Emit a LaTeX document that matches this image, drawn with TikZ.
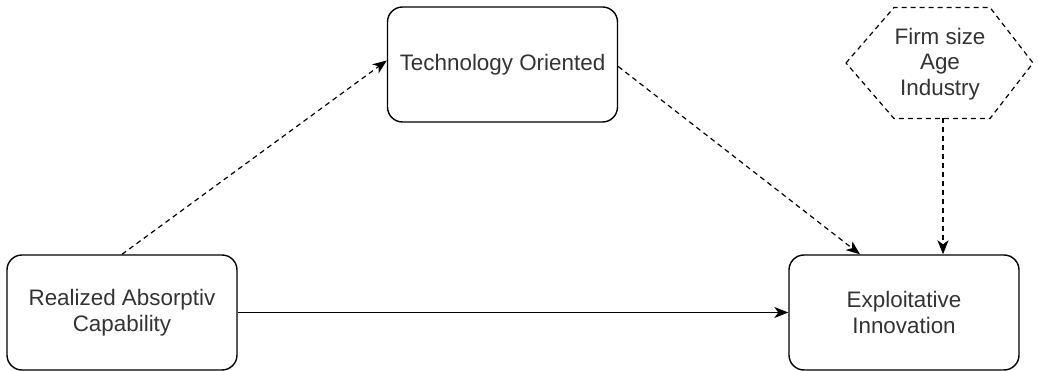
\documentclass[tikz,border=0pt]{standalone}
\usepackage{fontspec}
\setmainfont{Liberation Sans}
\usetikzlibrary{arrows.meta,positioning}

\tikzset{
  block/.style={draw, rounded corners=15pt, line width=1.4pt, minimum width=230pt,
    minimum height=115pt, align=center, text=black!80},
  link/.style={line width=1.2pt, -{Stealth[length=14pt,width=11pt,inset=4pt]}},
  dashlink/.style={link, dash pattern=on 5pt off 4pt},
  hexline/.style={line width=1.2pt, dash pattern=on 5pt off 4pt}
}

\begin{document}
\begin{tikzpicture}[x=1pt, y=-1pt, inner sep=0pt, font=\fontsize{22.4}{25.5}\selectfont]
  \useasboundingbox (0,0) rectangle (1038,371);

  \node[block] (rac) at (122,312.5) {Realized Absorptiv\\Capability};
  \node[block] (tech) at (502.5,64.5) {Technology Oriented};
  \node[block] (expl) at (904,312.5) {Exploitative\\Innovation};

  % control variables
  \node[align=center, text=black!80] (ctrl) at (940,64) {Firm size\\Age\\Industry};
  \coordinate (hw) at (846,63);
  \coordinate (htl) at (894,7.5);
  \coordinate (htr) at (990,7.5);
  \coordinate (he) at (1033,63);
  \coordinate (hbr) at (990,118.5);
  \coordinate (hbl) at (894,118.5);
  \draw[hexline] (hw) -- (htl) -- (htr) -- (he) -- (hbr) -- (hbl) -- cycle;
  \coordinate (hb) at (943,118.5);

  \draw[dashlink] (rac.north) -- ([yshift=4pt]tech.west);
  \draw[dashlink] ([yshift=-2pt]tech.east) -- ([xshift=-44pt]expl.north);
  \draw[dashlink] (hb) -- ([xshift=39pt]expl.north);
  \draw[link] (rac) -- (expl);
\end{tikzpicture}
\end{document}
